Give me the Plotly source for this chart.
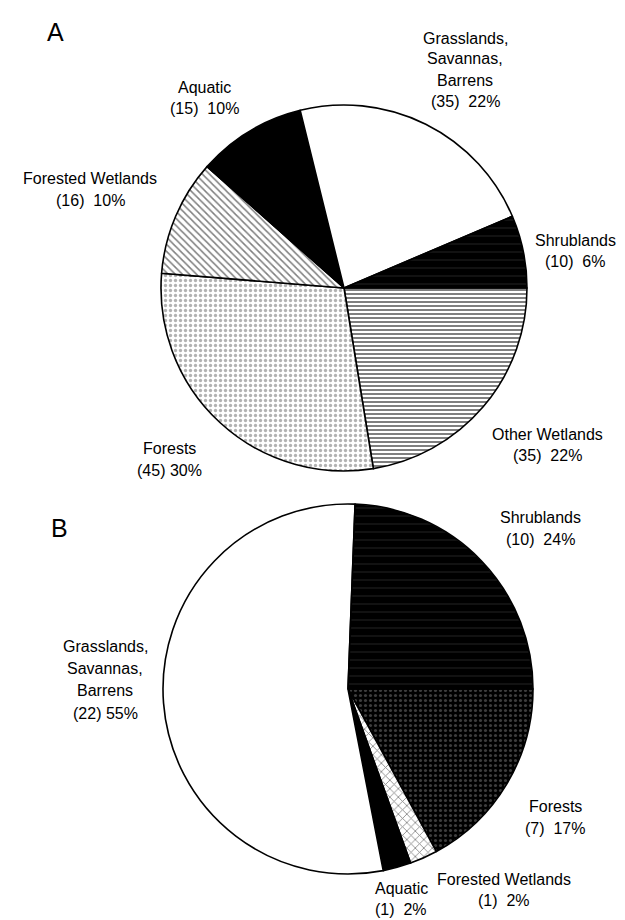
import plotly.graph_objects as go

W, H = 625, 920

# ---------------- data ----------------
# Panel A (order drawn clockwise starting at 3 o'clock)
cats_A = ["Other Wetlands", "Forests", "Forested Wetlands", "Aquatic",
          "Grasslands, Savannas, Barrens", "Shrublands"]
counts_A = [35, 45, 16, 15, 35, 10]
pct_A = ["22%", "30%", "10%", "10%", "22%", "6%"]

# Panel B (order drawn clockwise starting at 3 o'clock)
cats_B = ["Forests", "Forested Wetlands", "Aquatic",
          "Grasslands, Savannas, Barrens", "Shrublands"]
counts_B = [7, 1, 1, 22, 10]
pct_B = ["17%", "2%", "2%", "55%", "24%"]

# ---------------- styles ----------------
style = {
    "Grasslands, Savannas, Barrens": dict(shape="", bg="white", fg="white", size=8, sol=0.3),
    "Shrublands": dict(shape="-", bg="black", fg="#3a3a3a", size=8, sol=0.15),
    "Other Wetlands": dict(shape="-", bg="white", fg="black", size=4, sol=0.5),
    "Forests_A": dict(shape=".", bg="white", fg="#666666", size=5, sol=0.35),
    "Forests_B": dict(shape=".", bg="black", fg="#7a7a7a", size=5, sol=0.3),
    "Forested Wetlands_A": dict(shape="\\", bg="white", fg="black", size=5, sol=0.3),
    "Forested Wetlands_B": dict(shape="x", bg="white", fg="black", size=6, sol=0.25),
    "Aquatic": dict(shape="", bg="black", fg="black", size=8, sol=0.3),
}


def get_style(cat, panel):
    return style.get(cat + "_" + panel, style.get(cat))


def pattern_for(cats, panel):
    st = [get_style(c, panel) for c in cats]
    return dict(
        colors=[s["bg"] for s in st],
        pattern=dict(
            shape=[s["shape"] for s in st],
            bgcolor=[s["bg"] for s in st],
            fgcolor=[s["fg"] for s in st],
            size=[s["size"] for s in st],
            solidity=[s["sol"] for s in st],
            fillmode="overlay",
        ),
        line=dict(color="black", width=1.6),
    )


def dom(cx, cy, r):
    return dict(x=[(cx - r) / W, (cx + r) / W], y=[1 - (cy + r) / H, 1 - (cy - r) / H])


fig = go.Figure()
fig.add_trace(go.Pie(
    labels=cats_A, values=counts_A, sort=False, direction="clockwise",
    rotation=90, textinfo="none", hoverinfo="label+value",
    marker=pattern_for(cats_A, "A"), domain=dom(336, 280, 183), showlegend=False,
))
fig.add_trace(go.Pie(
    labels=cats_B, values=counts_B, sort=False, direction="clockwise",
    rotation=90, textinfo="none", hoverinfo="label+value",
    marker=pattern_for(cats_B, "B"), domain=dom(340, 681, 185), showlegend=False,
))

# ---------------- labels ----------------
FONT = "Liberation Sans, Arial, Helvetica, sans-serif"
annotations = []


def add_lines(lines, cx, ys, size=16):
    for txt, y in zip(lines, ys):
        annotations.append(dict(
            text=txt, x=cx / W, y=1 - y / H, xref="paper", yref="paper",
            xanchor="center", yanchor="middle", showarrow=False, borderpad=0,
            font=dict(family=FONT, size=size, color="black"),
        ))


def label_lines(cat, count, pct, sep):
    if cat.startswith("Grasslands"):
        head = ["Grasslands,", "Savannas,", "Barrens"]
    else:
        head = [cat]
    return head + ["(%d)%s%s" % (count, sep, pct)]


NB2 = "\u00a0\u00a0"

# Panel A label placements (center x, line y's)
pos_A = {
    "Grasslands, Savannas, Barrens": (457, [30, 51, 72, 94]),
    "Aquatic": (196, [79, 100]),
    "Forested Wetlands": (82, [171, 192]),
    "Shrublands": (567, [232, 253]),
    "Other Wetlands": (539, [426, 447]),
    "Forests": (161, [440, 462]),
}
for c, n, p in zip(cats_A, counts_A, pct_A):
    sep = " " if c == "Forests" else NB2
    cx, ys = pos_A[c]
    add_lines(label_lines(c, n, p, sep), cx, ys)

pos_B = {
    "Shrublands": (532, [509, 531]),
    "Grasslands, Savannas, Barrens": (97, [638, 660, 682, 705]),
    "Forests": (547, [798, 820]),
    "Aquatic": (393, [880, 901]),
    "Forested Wetlands": (496, [871, 892]),
}
for c, n, p in zip(cats_B, counts_B, pct_B):
    sep = " " if c.startswith("Grasslands") else NB2
    cx, ys = pos_B[c]
    add_lines(label_lines(c, n, p, sep), cx, ys)

# panel letters
add_lines(["A"], 48, [24], size=25)
add_lines(["B"], 51, [520], size=25)

fig.update_layout(
    width=W, height=H, margin=dict(l=0, r=0, t=0, b=0),
    paper_bgcolor="white", plot_bgcolor="white",
    annotations=annotations, showlegend=False,
)

fig.write_html("out.html")
